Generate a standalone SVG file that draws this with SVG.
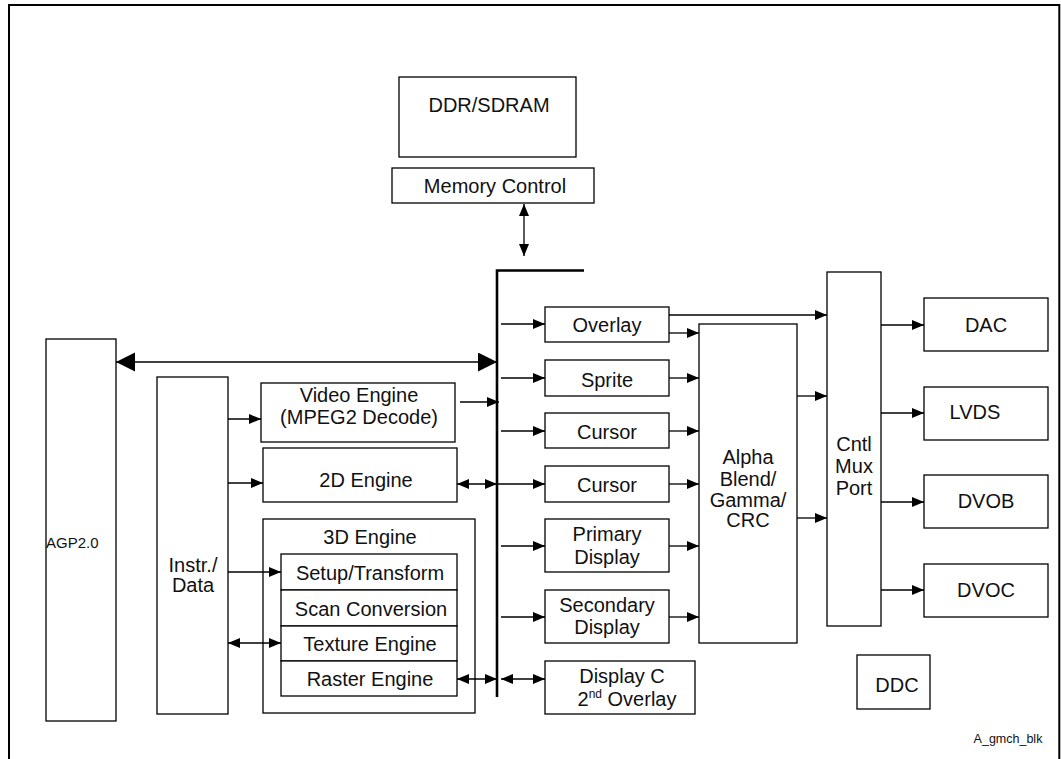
<svg xmlns="http://www.w3.org/2000/svg" width="1061" height="759" viewBox="0 0 1061 759">
<style>
.b{fill:#fff;stroke:#000;stroke-width:1.3}
.t{font-family:"Liberation Sans",Arial,Helvetica,sans-serif;font-size:20px;fill:#111;text-anchor:middle}
.l{fill:none;stroke:#000;stroke-width:1.3}
.a{marker-end:url(#arr)}
.d{marker-start:url(#arr);marker-end:url(#arr)}
</style>
<defs>
<marker id="arr" markerUnits="userSpaceOnUse" markerWidth="13" markerHeight="11" refX="12" refY="5" orient="auto-start-reverse">
<path d="M0,0 L12,5 L0,10 z" fill="#000"/>
</marker>
<marker id="big" markerUnits="userSpaceOnUse" markerWidth="20" markerHeight="20" refX="19" refY="9.5" orient="auto-start-reverse">
<path d="M0,0 L19,9.5 L0,19 z" fill="#000"/>
</marker>
</defs>
<rect width="1061" height="759" fill="#fff"/>
<path d="M9,760 V5 H1059.3 V760" fill="none" stroke="#000" stroke-width="2"/>

<g id="ddr"><rect class="b" x="399" y="77" width="177" height="80"/><text class="t" x="489" y="112">DDR/SDRAM</text></g>
<g id="memctl"><rect class="b" x="392" y="168" width="202" height="35"/><text class="t" x="495" y="193">Memory Control</text></g>
<g id="agp"><rect class="b" x="46" y="339" width="70" height="382"/><text class="t" x="46" y="548" style="font-size:15px;text-anchor:start">AGP2.0</text></g>
<g id="instr"><rect class="b" x="157" y="377" width="71" height="337"/><text class="t" x="193" y="572">Instr./</text><text class="t" x="193" y="592">Data</text></g>
<g id="video"><rect class="b" x="261" y="383" width="194" height="59"/><text class="t" x="359" y="402">Video Engine</text><text class="t" x="359" y="424">(MPEG2 Decode)</text></g>
<g id="e2d"><rect class="b" x="263" y="448" width="194" height="54"/><text class="t" x="366" y="487">2D Engine</text></g>
<g id="e3d"><rect class="b" x="263" y="519" width="212" height="194"/><text class="t" x="370" y="544">3D Engine</text>
<rect class="b" x="281" y="554" width="176" height="36"/><text class="t" x="370" y="580">Setup/Transform</text>
<rect class="b" x="281" y="590" width="176" height="36"/><text class="t" x="371" y="616">Scan Conversion</text>
<rect class="b" x="281" y="626" width="176" height="35"/><text class="t" x="370" y="651">Texture Engine</text>
<rect class="b" x="281" y="661" width="176" height="35"/><text class="t" x="370" y="686">Raster Engine</text></g>
<g id="overlay"><rect class="b" x="545" y="307" width="124" height="35"/><text class="t" x="607" y="332">Overlay</text></g>
<g id="sprite"><rect class="b" x="545" y="360" width="124" height="36"/><text class="t" x="607" y="387">Sprite</text></g>
<g id="cursor1"><rect class="b" x="545" y="413" width="124" height="35"/><text class="t" x="607" y="439">Cursor</text></g>
<g id="cursor2"><rect class="b" x="545" y="466" width="124" height="36"/><text class="t" x="607" y="492">Cursor</text></g>
<g id="primary"><rect class="b" x="545" y="519" width="124" height="53"/><text class="t" x="607" y="541">Primary</text><text class="t" x="607" y="564">Display</text></g>
<g id="secondary"><rect class="b" x="545" y="590" width="124" height="53"/><text class="t" x="607" y="612">Secondary</text><text class="t" x="607" y="634">Display</text></g>
<g id="displayc"><rect class="b" x="545" y="661" width="150" height="53"/><text class="t" x="622" y="683">Display C</text><text class="t" x="627" y="706">2<tspan style="font-size:12px" dy="-8">nd</tspan><tspan dy="8"> Overlay</tspan></text></g>
<g id="alpha"><rect class="b" x="699" y="324" width="98" height="319"/><text class="t" x="748" y="464">Alpha</text><text class="t" x="748" y="486">Blend/</text><text class="t" x="748" y="507">Gamma/</text><text class="t" x="748" y="527">CRC</text></g>
<g id="cntl"><rect class="b" x="827" y="272" width="54" height="354"/><text class="t" x="854" y="451">Cntl</text><text class="t" x="854" y="473">Mux</text><text class="t" x="854" y="495">Port</text></g>
<g id="dac"><rect class="b" x="924" y="298" width="124" height="53"/><text class="t" x="986" y="332">DAC</text></g>
<g id="lvds"><rect class="b" x="924" y="387" width="124" height="53"/><text class="t" x="975" y="419">LVDS</text></g>
<g id="dvob"><rect class="b" x="924" y="475" width="124" height="53"/><text class="t" x="986" y="508">DVOB</text></g>
<g id="dvoc"><rect class="b" x="924" y="564" width="124" height="53"/><text class="t" x="986" y="597">DVOC</text></g>
<g id="ddc"><rect class="b" x="857" y="655" width="73" height="54"/><text class="t" x="897" y="692">DDC</text></g>
<text class="t" x="1008" y="743" style="font-size:12.5px">A_gmch_blk</text>

<g id="connectors">
<path d="M497,697 V270.5 H584" fill="none" stroke="#000" stroke-width="2.6"/>
<line class="l d" x1="524" y1="204" x2="524" y2="256"/>
<line class="l" x1="116" y1="362" x2="497" y2="362" marker-start="url(#big)" marker-end="url(#big)"/>
<line class="l a" x1="228" y1="419" x2="261" y2="419"/>
<line class="l a" x1="228" y1="483" x2="263" y2="483"/>
<line class="l a" x1="228" y1="572" x2="281" y2="572"/>
<line class="l d" x1="228" y1="643" x2="281" y2="643"/>
<line class="l a" x1="460" y1="402" x2="499" y2="402"/>
<line class="l d" x1="457" y1="484" x2="497" y2="484"/>
<line class="l d" x1="457" y1="679" x2="497" y2="679"/>
<line class="l a" x1="501" y1="324" x2="545" y2="324"/>
<line class="l a" x1="501" y1="378" x2="545" y2="378"/>
<line class="l a" x1="501" y1="431" x2="545" y2="431"/>
<line class="l a" x1="497" y1="484" x2="545" y2="484"/>
<line class="l a" x1="501" y1="546" x2="545" y2="546"/>
<line class="l a" x1="501" y1="617" x2="545" y2="617"/>
<line class="l d" x1="501" y1="679" x2="545" y2="679"/>
<line class="l a" x1="669" y1="315" x2="827" y2="315"/>
<line class="l a" x1="669" y1="333" x2="699" y2="333"/>
<line class="l a" x1="669" y1="378" x2="699" y2="378"/>
<line class="l a" x1="669" y1="431" x2="699" y2="431"/>
<line class="l a" x1="669" y1="484" x2="699" y2="484"/>
<line class="l a" x1="669" y1="546" x2="699" y2="546"/>
<line class="l a" x1="669" y1="617" x2="699" y2="617"/>
<line class="l a" x1="797" y1="396" x2="827" y2="396"/>
<line class="l a" x1="797" y1="518" x2="827" y2="518"/>
<line class="l a" x1="881" y1="325" x2="924" y2="325"/>
<line class="l a" x1="881" y1="413" x2="924" y2="413"/>
<line class="l a" x1="881" y1="502" x2="924" y2="502"/>
<line class="l a" x1="881" y1="590" x2="924" y2="590"/>
</g>
</svg>
